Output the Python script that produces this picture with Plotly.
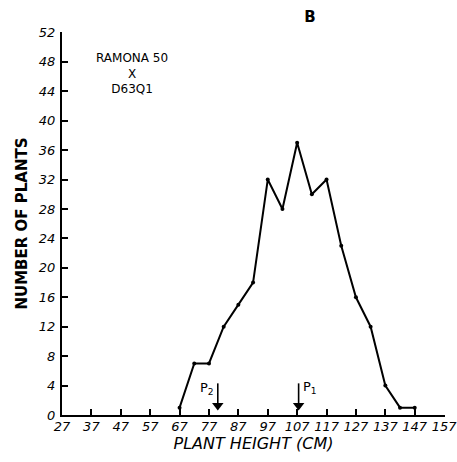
import plotly.graph_objects as go

heights = [67, 72, 77, 82, 87, 92, 97, 102, 107, 112, 117, 122, 127, 132, 137, 142, 147]
counts = [1, 7, 7, 12, 15, 18, 32, 28, 37, 30, 32, 23, 16, 12, 4, 1, 1]
x_ticks = [27, 37, 47, 57, 67, 77, 87, 97, 107, 117, 127, 137, 147, 157]
y_ticks = [0, 4, 8, 12, 16, 20, 24, 28, 32, 36, 40, 44, 48, 52]
parent_labels = ["P<sub>1</sub>", "P<sub>2</sub>"]
parent_heights = [107.5, 80]
label_sides = ["right", "left"]

fig = go.Figure()
fig.add_trace(go.Scatter(
    x=heights, y=counts, mode="lines+markers",
    line=dict(color="black", width=2),
    marker=dict(color="black", size=4),
    showlegend=False, cliponaxis=False,
))

for label, xp, side in zip(parent_labels, parent_heights, label_sides):
    fig.add_trace(go.Scatter(
        x=[xp, xp], y=[4.3, 1.6], mode="lines",
        line=dict(color="black", width=1.6), showlegend=False, hoverinfo="skip",
    ))
    fig.add_trace(go.Scatter(
        x=[xp], y=[1.3], mode="markers",
        marker=dict(symbol="triangle-down", color="black", size=10),
        showlegend=False, hoverinfo="skip",
    ))
    if side == "left":
        fig.add_annotation(
            x=xp - 0.6, y=3.6, xref="x", yref="y", text=label, showarrow=False,
            xanchor="right", font=dict(family="DejaVu Sans", size=13, color="black"),
        )
    else:
        fig.add_annotation(
            x=xp + 0.8, y=3.8, xref="x", yref="y", text=label, showarrow=False,
            xanchor="left", font=dict(family="DejaVu Sans", size=13, color="black"),
        )

fig.add_annotation(
    x=0.183, y=0.955, xref="paper", yref="paper", xanchor="center", yanchor="top",
    text="RAMONA 50<br>X<br>D63Q1", showarrow=False, align="center",
    font=dict(family="DejaVu Sans", size=12, color="black"),
)

fig.update_layout(
    width=457, height=462,
    margin=dict(l=62, r=12, t=32, b=47, autoexpand=False),
    paper_bgcolor="white", plot_bgcolor="white",
    title=dict(text="<b>B</b>", x=310 / 457, xanchor="center", y=1 - 17 / 462,
               yanchor="middle", font=dict(family="DejaVu Sans", size=15, color="black")),
    xaxis=dict(
        range=[27, 157.3], tickvals=x_ticks, ticktext=[str(v) for v in x_ticks],
        showline=True, linecolor="black", linewidth=2, ticks="inside", ticklen=6,
        tickwidth=2, tickcolor="black", showgrid=False, zeroline=False, automargin=False,
        ticklabeloverflow="allow", ticklabelstandoff=-2,
        tickfont=dict(family="DejaVu Sans", size=13, color="black", style="italic"),
        title=dict(text="PLANT HEIGHT (CM)", standoff=4,
                   font=dict(family="DejaVu Sans", size=16, color="black", style="italic")),
    ),
    yaxis=dict(
        range=[0, 52.05], tickvals=y_ticks, ticktext=[str(v) for v in y_ticks],
        showline=True, linecolor="black", linewidth=2, ticks="inside", ticklen=6,
        tickwidth=2, tickcolor="black", showgrid=False, zeroline=False, automargin=False,
        ticklabeloverflow="allow", ticklabelstandoff=2,
        tickfont=dict(family="DejaVu Sans", size=13, color="black", style="italic"),
        title=dict(text="<b>NUMBER OF PLANTS</b>", standoff=8,
                   font=dict(family="DejaVu Sans", size=15, color="black")),
    ),
)

fig.write_html(
    "out.html",
    config={"displayModeBar": False},
    post_script="document.body.style.margin='0';document.body.style.overflow='hidden';",
)
